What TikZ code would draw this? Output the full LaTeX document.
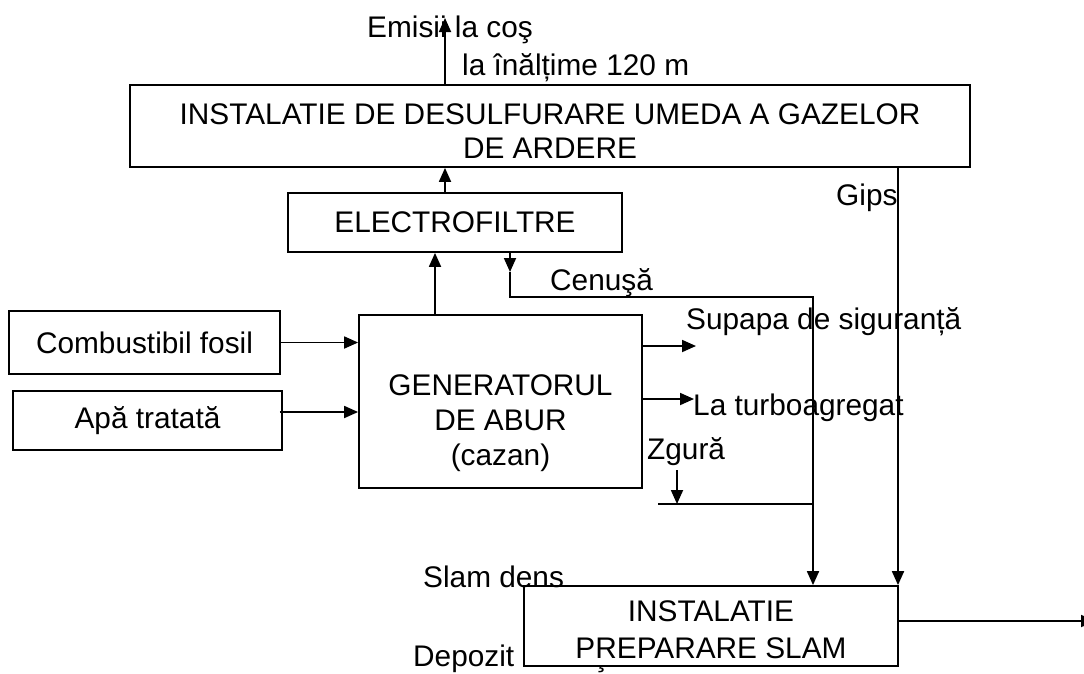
\documentclass[tikz,border=0pt]{standalone}
\usepackage{fontspec}
\setmainfont{Liberation Sans}
\usetikzlibrary{arrows.meta,calc}
\begin{document}
\begin{tikzpicture}[x=1pt,y=-1pt,
  box/.style={draw,line width=1.8pt,fill=white,inner sep=0pt,align=center},
  txt/.style={align=center,inner sep=0pt},
  lbl/.style={inner sep=0pt,anchor=west},
  arr/.style={line width=1.8pt,-{Triangle[length=14pt,width=12pt]}},
  ln/.style={line width=1.8pt},
  every node/.style={font=\fontsize{29.8}{35}\selectfont}]
\useasboundingbox (0,0) rectangle (1084,673);

% labels
\node[lbl] (emisii) at (367,30) {Emisii la coş};
\node[lbl] (inaltime) at (462,68) {la înălțime 120 m};
\node[lbl] (depozit) at (413,659) {Depozit Cenuşă};

% boxes
\node[box,minimum width=840,minimum height=82] (desulf) at (550,126) {};
\node[txt,font=\fontsize{29.8}{34}\selectfont] (desulftext) at (550,131)
  {INSTALATIE DE DESULFURARE UMEDA A GAZELOR\\DE ARDERE};
\node[box,minimum width=334,minimum height=59] (ef) at (455,222.5) {ELECTROFILTRE};
\node[box,minimum width=283,minimum height=173] (gen) at (500.5,401.5) {};
\node[txt] (gentext) at (500.5,423) {GENERATORUL\\DE ABUR\\(cazan)};
\node[box,minimum width=271,minimum height=63] (fuel) at (144.5,342.5) {Combustibil fosil};
\node[box,minimum width=269,minimum height=59] (water) at (147.5,420.5) {Apă tratată};
\node[box,minimum width=374,minimum height=80] (slam) at (711,626) {};
\node[txt,font=\fontsize{29.8}{37}\selectfont] (slamtext) at (711,630)
  {INSTALATIE\\PREPARARE SLAM};

\node[lbl] (slamdens) at (423,577) {Slam dens};
\node[lbl] (gips) at (836,198) {Gips};
\node[lbl] (cenusa) at (550,283) {Cenuşă};
\node[lbl] (supapa) at (686,322) {Supapa de siguranță};
\node[lbl] (turbo) at (693,408) {La turboagregat};
\node[lbl] (zgura) at (647,452) {Zgură};

% coordinates
\coordinate (chim) at (445,18);
\coordinate (g2e) at (435,0);
\coordinate (wy) at (0,412);
\coordinate (sup) at (696,346);
\coordinate (turb) at (694,399);
\coordinate (c1) at (510,272);
\coordinate (cturn) at (813,297);
\coordinate (zg1) at (677,470);
\coordinate (zg2) at (677,504);
\coordinate (zgl) at (658,504);
\coordinate (zgr) at (813,504);
\coordinate (gx) at (898,0);
\coordinate (outy) at (0,621);
\coordinate (outend) at (1095,621);

% connectors
\draw[arr] (chim |- desulf.north) -- (chim);
\draw[arr] (ef.north -| chim) -- (desulf.south -| chim);
\draw[arr] (gen.north -| g2e) -- (ef.south -| g2e);
\draw[arr] (fuel.east) -- (gen.west |- fuel.east);
\draw[arr] (water.east |- wy) ++(-3,0) -- (gen.west |- wy);
\draw[arr] (gen.east |- sup) -- (sup);
\draw[arr] (gen.east |- turb) -- (turb);
\draw[arr] (ef.south -| c1) -- (c1);
\draw[arr] (c1) |- (cturn) -- (slam.north -| cturn);
\draw[arr] (zg1) -- (zg2);
\draw[ln] (zgl) -- (zgr);
\draw[arr] (desulf.south -| gx) -- (slam.north -| gx);
\draw[arr] (slam.east |- outy) -- (outend);
\end{tikzpicture}
\end{document}
